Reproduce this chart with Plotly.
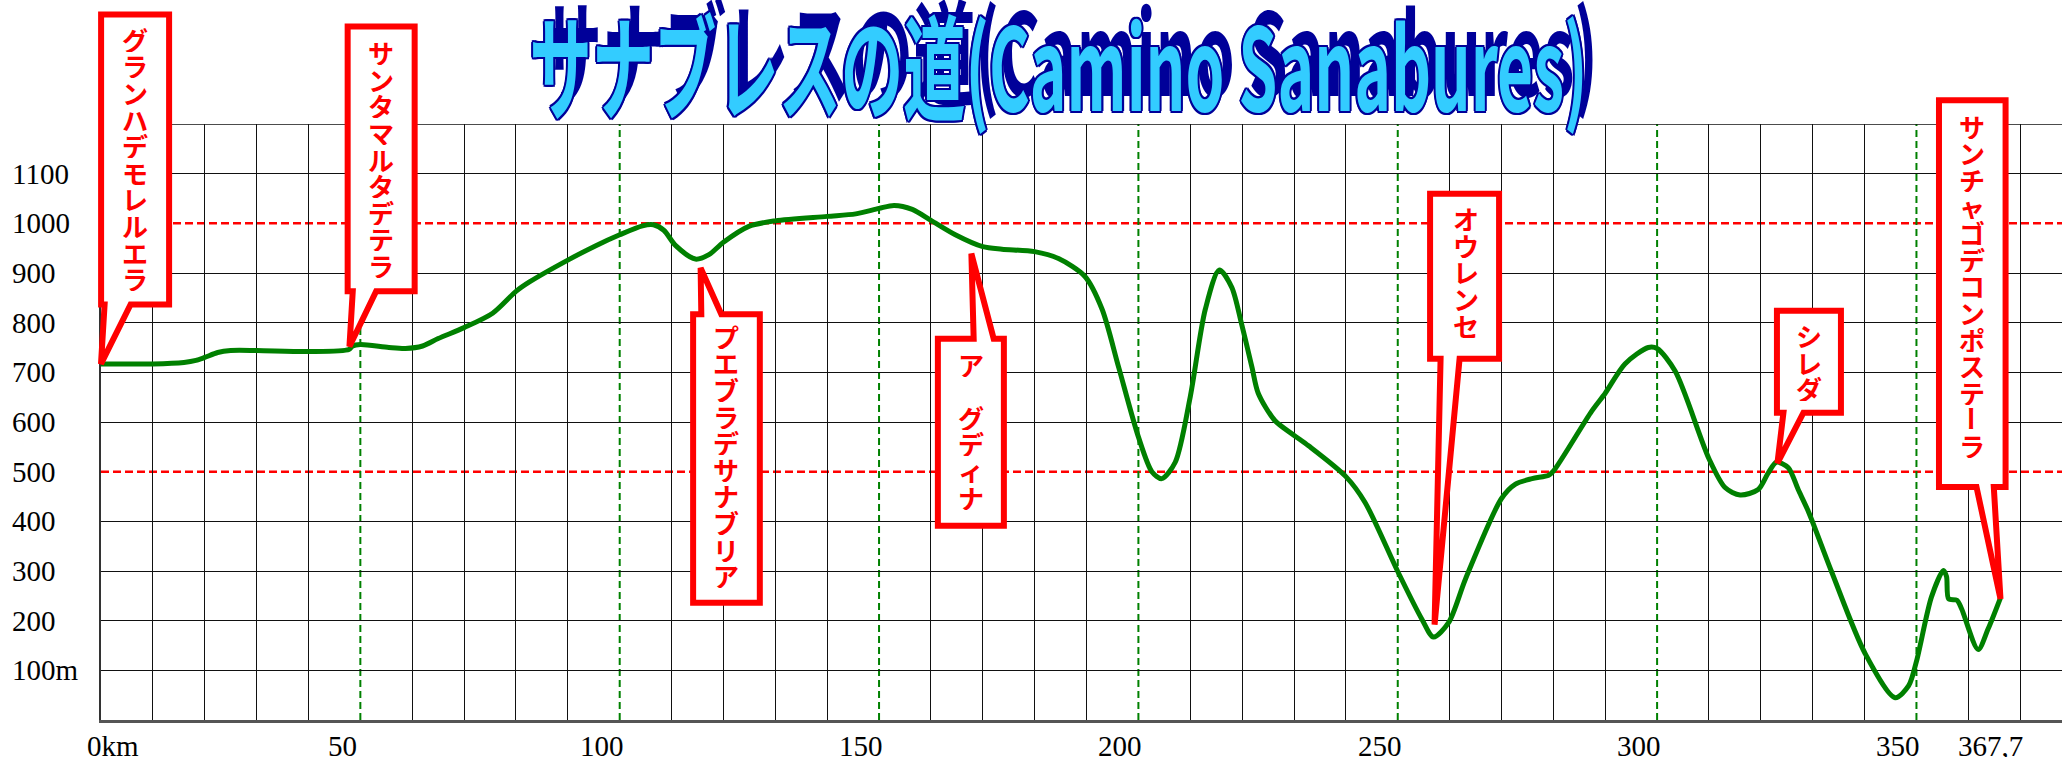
import plotly.graph_objects as go

# ---------------- data ----------------
km = [0, 10, 16, 18.3, 20, 22.5, 25, 30, 40, 47.8,
      48.5, 50, 55.5, 58.7, 62, 65, 70, 75.5, 80, 82.6,
      90, 95.4, 100, 104.4, 106.5, 108.5, 110.8, 114.6, 117.2, 120,
      124.9, 130, 140, 145.5, 150, 152.9, 156.4, 160, 164.7, 170,
      173.7, 180, 184.6, 189.7, 193, 196.2, 200, 202.6, 204.5, 207.1,
      210, 212.9, 215.6, 218, 219.9, 221.9, 223.1, 226.3, 229.9, 232.8,
      240, 243.7, 250, 254.6, 256.9, 259.8, 263.1, 270, 272.7, 275.9,
      279.1, 280, 287.4, 290, 293.8, 298.3, 300, 303.5, 310, 313.1,
      316, 319.5, 321.4, 323, 325.3, 327.2, 329.2, 333.7, 340.1, 345.9,
      348.5, 350, 352.9, 355.2, 355.8, 356.2, 357.8, 358.7, 361.9, 363.8,
      366.2]
elev = [717, 717, 720, 724, 730, 740, 744, 744, 742, 746,
        753, 756, 750, 748, 753, 768, 790, 819, 863, 882,
        926, 955, 977, 995, 997, 986, 955, 928, 937, 962,
        994, 1005, 1014, 1019, 1030, 1036, 1028, 1006, 977, 953,
        948, 943, 929, 893, 827, 710, 570, 500, 486, 519,
        651, 827, 906, 871, 797, 710, 658, 603, 574, 552,
        490, 438, 299, 204, 167, 196, 285, 446, 475, 486,
        493, 501, 622, 658, 717, 750, 748, 702, 526, 468,
        453, 464, 497, 519, 508, 464, 419, 297, 134, 45,
        69, 118, 248, 301, 289, 244, 241, 224, 142, 183,
        246]

town_names = ["グランハデモレルエラ", "サンタマルタデテラ", "プエブラデサナブリア",
              "ア　グディナ", "オウレンセ", "シレダ", "サンチャゴデコンポステーラ"]
town_km = [0, 47.9, 115.6, 167.8, 257.1, 323.2, 366.2]
town_elev = [717, 752, 910, 939, 192, 517, 244]

xtick_vals = [0, 50, 100, 150, 200, 250, 300, 350, 367.7]
xtick_text = ["0km", "50", "100", "150", "200", "250", "300", "350", "367,7"]
ytick_vals = [100, 200, 300, 400, 500, 600, 700, 800, 900, 1000, 1100]
ytick_text = ["100m", "200", "300", "400", "500", "600", "700", "800", "900", "1000", "1100"]

grid_x = [v for v in range(10, 380, 10) if v % 50]
green_x = [50, 100, 150, 200, 250, 300, 350]
grid_y = [100, 200, 300, 400, 600, 700, 800, 900, 1100]
red_y = [500, 1000]
top_y = 1200

title_text = "サナブレスの道(Camino Sanabures)"

# ---------------- layout geometry (pixels) ----------------
W, H = 2062, 757
ML, MR, MT, MB = 101, 0, 124, 37
XR = [0, (W - ML - MR) / 5.187]
YR = [0, 1200]

# callout balloons, screen pixels relative to tip (y down)
callout_geom = [
    dict(box=(0.1, 68.1, -349.4, -59.4), tail=(3.6, 29.6), text=(34, -325)),
    dict(box=(-1.8, 65.2, -319.9, -55.3), tail=(3.3, 26.7), text=(31.7, -294.4)),
    dict(box=(-7.5, 59.2, 46.1, 334.6), tail=(0.7, 20.7), text=(25.7, 67.8)),
    dict(box=(-33.5, 32.5, 85.1, 272.1), tail=(2.3, 22.3), text=(0, 110)),
    dict(box=(-4.5, 64.5, -431, -266), tail=(6, 25), text=(31, -406.5)),
    dict(box=(-0.5, 63.5, -152.5, -50.5), tail=(6, 26), text=(31.5, -128)),
    dict(box=(-61.5, 5.1, -498.5, -111.9), tail=(-24, -6.7), text=(-28.7, -473)),
]
PITCH = 26.6

RED = "#ff0000"
NAVY = "#000099"

fig = go.Figure()
fig.add_trace(go.Scatter(
    x=km, y=elev, mode="lines",
    line=dict(color="#008000", width=5, shape="spline", smoothing=0.8),
    hoverinfo="skip", showlegend=False))

shapes = []
for v in red_y:
    shapes.append(dict(type="line", xref="paper", yref="y", x0=0, x1=1, y0=v, y1=v,
                       line=dict(color=RED, width=2.5, dash="8px,4px"), layer="below"))
for v in green_x:
    shapes.append(dict(type="line", xref="x", yref="paper", x0=v, x1=v, y0=0, y1=1,
                       line=dict(color="#008000", width=2, dash="7px,4px"), layer="below"))
shapes.append(dict(type="line", xref="paper", yref="y", x0=0, x1=1, y0=top_y, y1=top_y,
                   line=dict(color="#111111", width=1.6), layer="below"))


def to_paper_x(v):
    return (v - XR[0]) / (XR[1] - XR[0])


def to_paper_y(v):
    return (v - YR[0]) / (YR[1] - YR[0])


def balloon(g):
    x0, x1, y0, y1 = g["box"]
    xl, xr = g["tail"]
    if y1 <= 0:
        pts = [(x0, y0), (x1, y0), (x1, y1), (xr, y1), (0, 0), (xl, y1), (x0, y1)]
    else:
        pts = [(x0, y0), (xl, y0), (0, 0), (xr, y0), (x1, y0), (x1, y1), (x0, y1)]
    return "M " + " L ".join(f"{x:.1f},{-y:.1f}" for x, y in pts) + " Z"


annotations = []
# title (index 0, later fitted horizontally)
TITLE_W = 1058
TITLE_CX = 1058
TITLE_CY = 62
annotations.append(dict(
    xref="paper", yref="paper",
    x=(TITLE_CX - ML) / (W - ML - MR), y=1 + (MT - TITLE_CY) / (H - MT - MB),
    text=title_text, showarrow=False, xanchor="center", yanchor="middle",
    font=dict(family="Noto Sans CJK JP", size=114, color="#33CCFF", weight=700,
              shadow=("3px 0 0 %s, -3px 0 0 %s, 0 2px 0 %s, 0 -2px 0 %s, "
                      "2px 2px 0 %s, -2px -2px 0 %s, 2px -2px 0 %s, -2px 2px 0 %s, "
                      "15px -12px 0 %s") % tuple([NAVY] * 9))))

for name, tk, te, g in zip(town_names, town_km, town_elev, callout_geom):
    shapes.append(dict(type="path", xref="paper", yref="paper",
                       xsizemode="pixel", ysizemode="pixel",
                       xanchor=to_paper_x(tk), yanchor=to_paper_y(te),
                       path=balloon(g), fillcolor="white",
                       line=dict(color=RED, width=6), layer="above"))
    cx, cy = g["text"]
    for i, ch in enumerate(name):
        if not ch.strip():
            continue
        annotations.append(dict(
            x=tk, y=te, xref="x", yref="y", text=ch, showarrow=False,
            xshift=cx, yshift=-(cy + i * PITCH), xanchor="center", yanchor="middle",
            height=26, width=30, borderpad=0,
            textangle=90 if ch == "ー" else 0,
            font=dict(family="Noto Sans CJK JP", size=26, color=RED, weight=700)))

tick_font = dict(family="Liberation Serif", size=29, color="black")
for v, t in zip(ytick_vals, ytick_text):
    annotations.append(dict(xref="paper", x=0, xshift=10 - ML, xanchor="left",
                            yref="y", y=v, yanchor="middle", text=t,
                            showarrow=False, font=tick_font))
for i, (v, t) in enumerate(zip(xtick_vals, xtick_text)):
    annotations.append(dict(xref="x", x=v, yref="paper", y=0, yanchor="top",
                            yshift=-8, xanchor="left" if i == 0 else "center",
                            xshift=-16 if i == 0 else -18, text=t,
                            showarrow=False, font=tick_font))

fig.update_layout(
    width=W, height=H, margin=dict(l=ML, r=MR, t=MT, b=MB, pad=0),
    paper_bgcolor="white", plot_bgcolor="white", showlegend=False,
    shapes=shapes, annotations=annotations,
    xaxis=dict(range=XR, tickvals=grid_x, showticklabels=False, ticks="",
               showgrid=True, gridcolor="#111111", gridwidth=1.4, zeroline=False,
               showline=True, linecolor="#555555", linewidth=2.5, fixedrange=True),
    yaxis=dict(range=YR, tickvals=grid_y, showticklabels=False, ticks="",
               showgrid=True, gridcolor="#111111", gridwidth=1.4, zeroline=False,
               showline=True, linecolor="#333333", linewidth=2, fixedrange=True),
)

post_js = """
document.body.style.margin = '0';
document.body.style.overflow = 'hidden';
var gd = document.getElementById('{plot_id}');
function fitTitle(){
  var t = gd.querySelector('.infolayer .annotation[data-index="0"] text');
  if(!t) return;
  var bb = t.getBBox();
  if(!bb.width) return;
  var sx = TITLE_W / bb.width;
  var cx = bb.x + bb.width / 2;
  t.setAttribute('transform', 'translate(' + cx + ',0) scale(' + sx + ',1) translate(' + (-cx) + ',0)');
}
fitTitle();
if (document.fonts && document.fonts.ready) { document.fonts.ready.then(fitTitle); }
setTimeout(fitTitle, 150);
""".replace("TITLE_W", str(TITLE_W))

fig.write_html("out.html", config={"displayModeBar": False}, post_script=post_js)
